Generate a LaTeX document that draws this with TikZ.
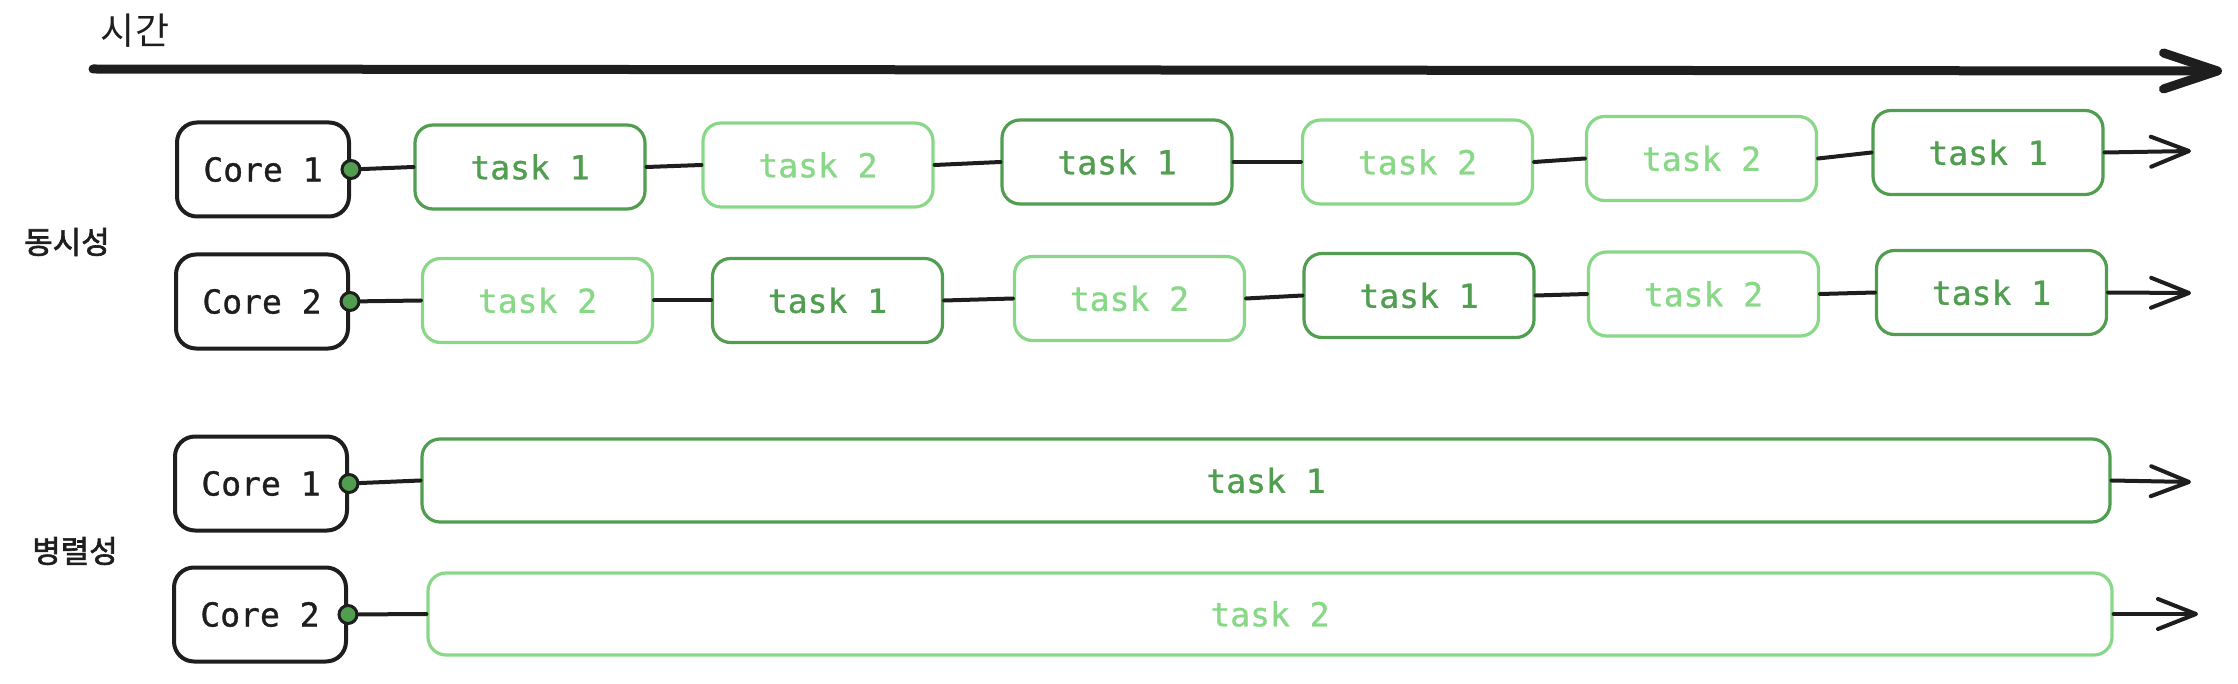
\documentclass[tikz,border=0pt]{standalone}
\usepackage{fontspec}
\setmainfont{DejaVu Sans Mono}[FakeBold=1]
\newfontfamily\krfont{Noto Sans CJK KR}
\newfontfamily\krside{Noto Sans CJK KR}[FakeBold=2]
\usetikzlibrary{arrows.meta}
\definecolor{ink}{RGB}{30,30,30}
\definecolor{taskdark}{RGB}{82,158,80}
\definecolor{tasklight}{RGB}{136,216,136}

\begin{document}
\begin{tikzpicture}[x=0.5pt,y=0.5pt,yscale=-1,xscale=1,
  core/.style={draw=ink,line width=2pt,rounded corners=10pt,minimum width=86pt,minimum height=47pt,inner sep=0pt,text=ink,font=\fontsize{16.5}{20}\selectfont},
  taskone/.style={draw=taskdark,line width=1.6pt,rounded corners=9pt,minimum width=115pt,minimum height=42pt,inner sep=0pt,text=taskdark,font=\fontsize{16.5}{20}\selectfont},
  tasktwo/.style={taskone,draw=tasklight,text=tasklight},
  pin/.style={circle,draw=ink,fill=taskdark,line width=1.5pt,minimum size=9pt,inner sep=0pt},
  link/.style={draw=ink,line width=2pt,line cap=round},
  flow/.style={link,-{Straight Barb[length=19pt,width=15pt,round]}},
  side/.style={text=ink,font=\krside\fontsize{15.5}{18}\selectfont}
]
\useasboundingbox (0,0) rectangle (2238,684);

% Text Node
\node[text=ink,font=\krfont\fontsize{18.5}{22}\selectfont] (time) at (135,31) {시간};
%Straight Lines
\coordinate (t0) at (93,69);
\coordinate (t1) at (2222,71);
\draw[link,line width=4.5pt,-{Straight Barb[length=27pt,width=18pt,round]}] (t0) -- (t1);

% Text Node
\node[side] (conc) at (67,242) {동시성};
% Text Node
\node[side] (para) at (75,551) {병렬성};

%Rounded Rect
\node[core] (c1) at (263,169.5) {Core 1};
\node[core] (c2) at (262,301.5) {Core 2};
\node[core] (pc1) at (261,483.5) {Core 1};
\node[core] (pc2) at (260,614.5) {Core 2};

%Dots
\node[pin] (d1) at (c1.east) {};
\node[pin] (d2) at (c2.east) {};
\node[pin] (pd1) at (pc1.east) {};
\node[pin] (pd2) at (pc2.east) {};

%Rounded Rect
\node[taskone] (a1) at (530,167) {task 1};
\node[tasktwo] (a2) at (818,165) {task 2};
\node[taskone] (a3) at (1117,162) {task 1};
\node[tasktwo] (a4) at (1417.5,162) {task 2};
\node[tasktwo] (a5) at (1701.5,158.5) {task 2};
\node[taskone] (a6) at (1988,152.5) {task 1};
\coordinate (ae) at (2191,151);

%Rounded Rect
\node[tasktwo] (b1) at (537.5,300.5) {task 2};
\node[taskone] (b2) at (827.5,300.5) {task 1};
\node[tasktwo] (b3) at (1129.5,298.5) {task 2};
\node[taskone] (b4) at (1419,295.5) {task 1};
\node[tasktwo] (b5) at (1703.5,294) {task 2};
\node[taskone] (b6) at (1991.5,292.5) {task 1};
\coordinate (be) at (2191,293);

%Rounded Rect
\node[taskone,minimum width=844pt,minimum height=41.5pt] (p1) at (1266,480.5) {task 1};
\node[tasktwo,minimum width=842pt,minimum height=41pt] (p2) at (1270,614) {task 2};
\coordinate (pe1) at (2191,482);
\coordinate (pe2) at (2198,614);

%Straight Lines
\draw[link] (d1) -- (a1.west);
\draw[link] (a1.east) -- (a2.west);
\draw[link] (a2.east) -- (a3.west);
\draw[link] (a3.east) -- (a4.west);
\draw[link] (a4.east) -- (a5.west);
\draw[link] (a5.east) -- (a6.west);
\draw[flow] (a6.east) -- (ae);

\draw[link] (d2) -- (b1.west);
\draw[link] (b1.east) -- (b2.west);
\draw[link] (b2.east) -- (b3.west);
\draw[link] (b3.east) -- (b4.west);
\draw[link] (b4.east) -- (b5.west);
\draw[link] (b5.east) -- (b6.west);
\draw[flow] (b6.east) -- (be);

\draw[link] (pd1) -- (p1.west);
\draw[flow] (p1.east) -- (pe1);
\draw[link] (pd2) -- (p2.west);
\draw[flow] (p2.east) -- (pe2);

\end{tikzpicture}
\end{document}
